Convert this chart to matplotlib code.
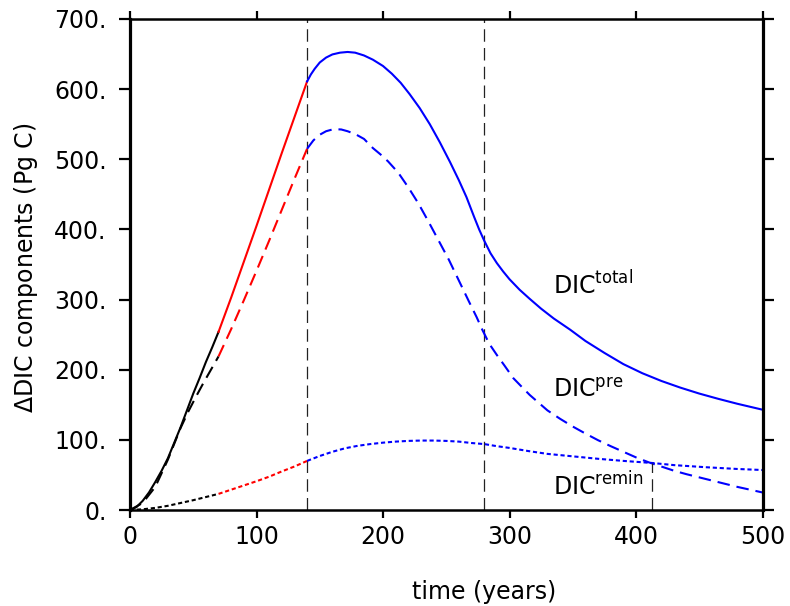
import numpy as np
import matplotlib
matplotlib.use('Agg')
import matplotlib.pyplot as plt
from matplotlib.ticker import FixedLocator, FuncFormatter

plt.rcParams['font.family'] = 'DejaVu Sans'
plt.rcParams['mathtext.fontset'] = 'dejavusans'
plt.rcParams['lines.scale_dashes'] = False

# DIC anomaly components (Pg C) against time (years)
t_total = [0, 5, 10, 15, 20, 25, 30, 35, 40, 45, 50, 55, 60, 65, 70,
           80, 90, 100, 110, 120, 130, 140,
           143, 146, 150, 155, 160, 166, 172, 178, 185, 192, 200, 207, 214, 221,
           229, 237, 245, 253, 260, 266, 272, 276, 280, 285, 290, 295, 300, 308,
           316, 325, 335, 348, 360, 375, 390, 405, 420, 435, 450, 465, 480, 500]
dic_total = [0, 4, 13, 25, 40, 56, 74, 96, 118, 142, 166, 188, 211, 232, 254,
             303, 354, 405, 457, 509, 560, 611,
             621, 629, 638, 645, 649.5, 652, 653, 652, 648, 642, 633, 622, 609, 593,
             573, 550, 524, 496, 470, 446, 418, 400, 384, 366, 352, 340, 329, 314,
             301, 287, 273, 257, 241, 224, 208, 195, 184, 174.5, 166, 158.5, 151.5, 143]

t_pre = [0, 10, 20, 30, 40, 46, 52, 58, 64, 70,
         80, 90, 100, 110, 120, 130, 140,
         145, 150, 155, 161, 167, 172, 178, 185, 192, 198, 204, 212, 220, 228,
         236, 244, 252, 260, 268, 274, 278.5, 284, 290, 296, 303, 310, 316, 323,
         330, 340, 350, 360, 370, 380, 390, 400, 410, 420, 430, 440, 450, 460,
         470, 480, 490, 500]
dic_pre = [0, 10, 33, 72, 117, 140, 161, 181, 200, 219,
           258, 299, 341, 384, 428, 472, 515,
           527, 535, 540, 543, 542.5, 540, 536, 529, 516, 507, 497, 481, 460, 437,
           411, 384, 357, 327, 297, 275, 257, 237, 221, 206, 188, 175, 164, 153,
           142, 130, 119, 109, 99.5, 91, 83, 75, 68, 62, 56, 51, 46.5, 42,
           37.5, 33, 29, 25]

t_remin = [0, 10, 20, 30, 40, 50, 60, 70, 80, 90, 100, 110, 120, 130, 140,
           150, 160, 170, 180, 190, 200, 210, 220, 230, 240, 250, 260, 270, 280,
           290, 300, 315, 330, 350, 370, 390, 413, 430, 455, 480, 500]
dic_remin = [0, 1, 3, 6, 10, 14, 18.5, 23, 29, 35, 41, 47.5, 55, 62, 70,
             77, 83, 88, 91.5, 94, 96, 97.5, 98.5, 99, 99, 98.5, 97.5, 95.5, 94,
             91, 88.5, 84, 80, 76.5, 73, 70, 67, 64, 61, 58.5, 57]

# phase boundaries: (start, end, colour)
phases = [(0, 70, 'black'), (70, 140, 'red'), (140, 500, 'blue')]
t_markers = [140, 280]
t_cross, dic_cross = 413, 67

x_ticks = [0, 100, 200, 300, 400, 500]
y_ticks = [0, 100, 200, 300, 400, 500, 600, 700]

solid = dict(lw=1.5, linestyle='-')
dashed = dict(lw=1.5, dashes=(9, 5))
dotted = dict(lw=1.5, dashes=(3, 2))

fig = plt.figure(figsize=(7.9, 6.06), dpi=100)
ax = fig.add_axes([130 / 790, 96 / 606, 632.5 / 790, 491 / 606])

for t, v, style in [(t_total, dic_total, solid),
                    (t_pre, dic_pre, dashed),
                    (t_remin, dic_remin, dotted)]:
    t = np.asarray(t, dtype=float)
    v = np.asarray(v, dtype=float)
    for lo, hi, c in phases:
        m = (t >= lo) & (t <= hi)
        ax.plot(t[m], v[m], color=c, **style)

for tm in t_markers:
    ax.axvline(tm, color='#222222', lw=0.9, dashes=(9, 4.5), zorder=1)
ax.plot([t_cross, t_cross], [0, dic_cross], color='#222222', lw=0.9, dashes=(9, 4.5))

label_kw = dict(fontsize=17, ha='left', va='baseline')
ax.text(334, 307, r'DIC$^{\mathrm{total}}$', **label_kw)
ax.text(334, 160, r'DIC$^{\mathrm{pre}}$', **label_kw)
ax.text(334, 21, r'DIC$^{\mathrm{remin}}$', **label_kw)

ax.set_xlim(0, 500)
ax.set_ylim(0, 700)
ax.xaxis.set_major_locator(FixedLocator(x_ticks))
ax.yaxis.set_major_locator(FixedLocator(y_ticks))
ax.yaxis.set_major_formatter(FuncFormatter(lambda v, p: f'{v:.0f}.'))
ax.tick_params(axis='both', direction='out', top=True, right=True,
               width=1.6, labelsize=17)
ax.tick_params(axis='x', length=6, pad=5)
ax.tick_params(axis='y', length=8, pad=9)

for side in ['left', 'right']:
    ax.spines[side].set_linewidth(2.3)
for side in ['top', 'bottom']:
    ax.spines[side].set_linewidth(1.8)

fig.text(26 / 790, 1 - 268 / 606, r'$\Delta$DIC components (Pg C)', rotation=90,
         ha='center', va='center', fontsize=17)
fig.text(484 / 790, 14 / 606, 'time (years)', ha='center', va='center', fontsize=17)

fig.savefig('out.png', dpi=100)
